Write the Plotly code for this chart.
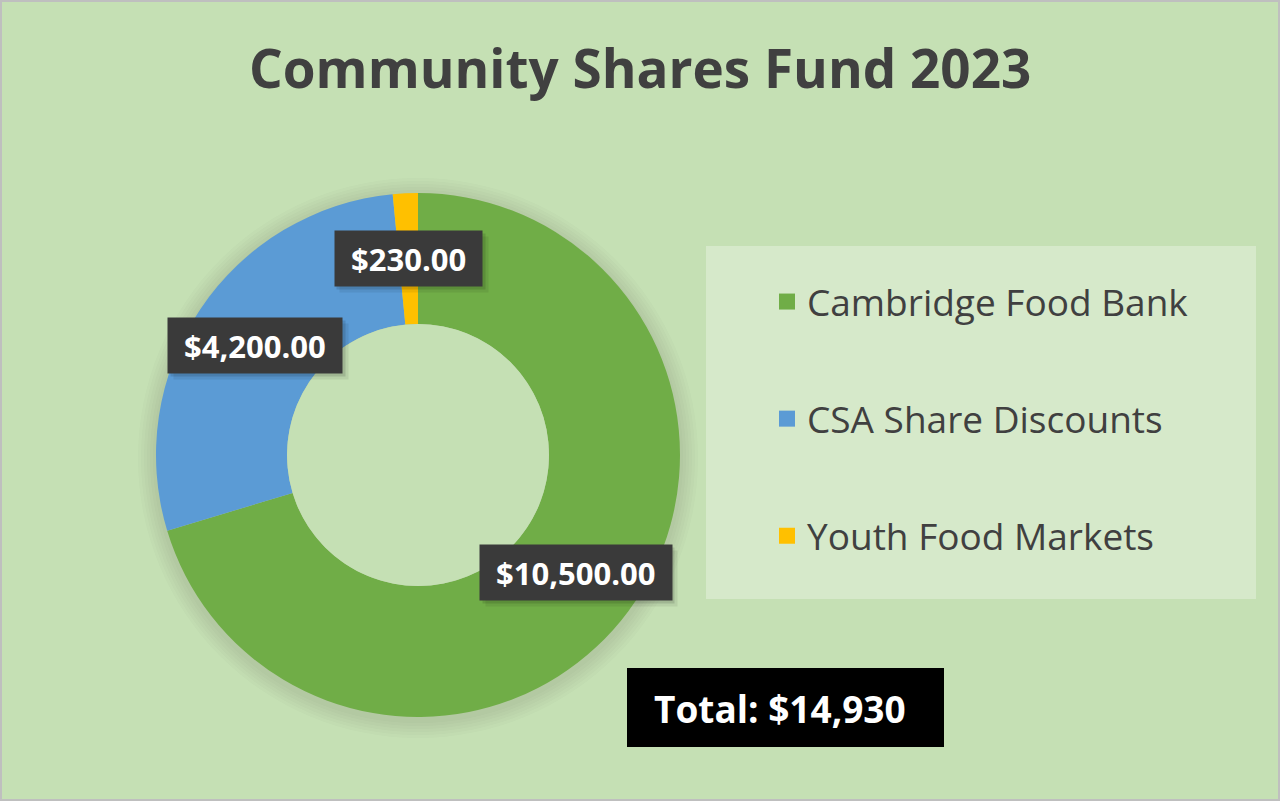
"""Community Shares Fund 2023 donut chart."""

import math

import plotly.graph_objects as go

W, H = 1280, 801

labels = ["Cambridge Food Bank", "CSA Share Discounts", "Youth Food Markets"]
values = [10500, 4200, 230]
colors = ["#70AD47", "#5B9BD5", "#FFC000"]
title_text = "Community Shares Fund 2023"

FONT = "Open Sans"
BG = "#C5E0B4"
LABEL_SIZE = 31

# donut geometry in pixels
CX, CY, R_OUT, HOLE = 418, 455, 262, 0.5


def px(x):
    return x / W


def py(y):
    return 1 - y / H


def circle(r, dy, fill, layer):
    return dict(
        type="circle", xref="paper", yref="paper",
        x0=px(CX - r), x1=px(CX + r), y0=py(CY + r + dy), y1=py(CY - r + dy),
        line=dict(width=0), fillcolor=fill, layer=layer,
    )


def label_width(s):
    # rough width of bold Open Sans text, used to size the label shadows
    em = sum(0.27 if c in ",. " else 0.572 for c in s)
    return em * LABEL_SIZE


fig = go.Figure()

fig.add_trace(go.Pie(
    labels=labels,
    values=values,
    hole=HOLE,
    sort=False,
    direction="clockwise",
    rotation=0,
    marker=dict(colors=colors, line=dict(width=0)),
    textinfo="none",
    hoverinfo="label+value",
    showlegend=False,
    domain=dict(x=[px(CX - R_OUT), px(CX + R_OUT)], y=[py(CY + R_OUT), py(CY - R_OUT)]),
))

# legend entries as dummy traces so the gap between items can be set
for lab, col in zip(labels, colors):
    fig.add_trace(go.Scatter(
        x=[None], y=[None], mode="markers", name=lab, legendgroup=lab,
        marker=dict(symbol="square", size=22, color=col),
    ))

# data labels placed at the middle of each ring segment
total = sum(values)
r_mid = R_OUT * (1 + HOLE) / 2
annotations = []
start = 0.0
for v in values:
    frac = v / total
    ang = 2 * math.pi * (start + frac / 2)
    start += frac
    lx = CX + r_mid * math.sin(ang)
    ly = CY - r_mid * math.cos(ang)
    txt = f" ${v:,.2f} "
    # soft shadow
    for off, a in ((3, 0.12), (6, 0.07)):
        annotations.append(dict(
            x=px(lx + off), y=py(ly + off), xref="paper", yref="paper", showarrow=False,
            xanchor="center", yanchor="middle", text="&nbsp;",
            font=dict(family=FONT, size=LABEL_SIZE, color="rgba(0,0,0,0)"),
            bgcolor=f"rgba(0,0,0,{a})", borderpad=8, height=39, width=label_width(txt),
        ))
    annotations.append(dict(
        x=px(lx), y=py(ly), xref="paper", yref="paper", showarrow=False,
        xanchor="center", yanchor="middle",
        text=f"<b>{txt}</b>", font=dict(family=FONT, size=LABEL_SIZE, color="white"),
        bgcolor="#3A3A3A", borderpad=8, height=39,
    ))

annotations.append(dict(
    x=px(652), y=py(708), xref="paper", yref="paper", xanchor="left", yanchor="middle",
    showarrow=False, text=f"<b>Total: ${total:,}</b>",
    font=dict(family=FONT, size=37, color="white"),
))

annotations.append(dict(
    x=px(640), y=py(68), xref="paper", yref="paper", xanchor="center", yanchor="middle",
    showarrow=False, text=f"<b>{title_text}</b>",
    font=dict(family=FONT, size=53, color="#404040"),
))

shapes = []
# soft halo behind the donut
for dr in (3, 6, 9, 12, 15, 18):
    shapes.append(circle(R_OUT + dr, 3, "rgba(40,60,30,0.018)", "below"))
# keep the hole clean of the halo
shapes.append(circle(R_OUT * HOLE, 0, BG, "above"))
shapes += [
    # chart border
    dict(type="rect", xref="paper", yref="paper", x0=px(1), y0=py(800), x1=px(1279), y1=py(1),
         line=dict(color="#BFBFBF", width=2), fillcolor="rgba(0,0,0,0)", layer="below"),
    # legend panel
    dict(type="rect", xref="paper", yref="paper", x0=px(706), y0=py(599), x1=px(1256), y1=py(246),
         line=dict(width=0), fillcolor="rgba(255,255,255,0.3)", layer="below"),
    # total box
    dict(type="rect", xref="paper", yref="paper", x0=px(627), y0=py(747), x1=px(944), y1=py(668),
         line=dict(width=0), fillcolor="black", layer="above"),
]

fig.update_layout(
    width=W, height=H,
    margin=dict(l=0, r=0, t=0, b=0),
    paper_bgcolor=BG, plot_bgcolor="rgba(0,0,0,0)",
    xaxis=dict(visible=False), yaxis=dict(visible=False),
    legend=dict(
        x=px(767), y=py(271), xanchor="left", yanchor="top",
        font=dict(family=FONT, size=37, color="#404040"),
        bgcolor="rgba(0,0,0,0)", tracegroupgap=66, itemsizing="trace",
    ),
    shapes=shapes,
    annotations=annotations,
)

fig.write_html(
    "out.html",
    config={"displayModeBar": False},
    post_script="document.body.style.margin = '0';",
)
